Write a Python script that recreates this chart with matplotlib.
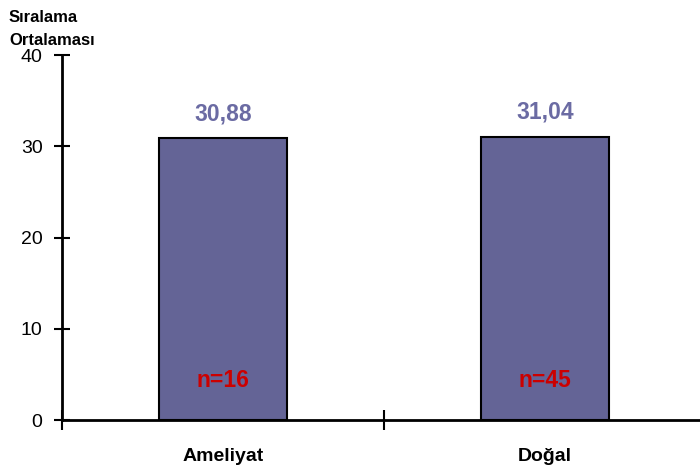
import matplotlib
matplotlib.use("Agg")
import matplotlib.pyplot as plt

# =========================
# データ
# =========================
categories = ["Ameliyat", "Doğal"]
values = [30.88, 31.04]
value_labels = ["30,88", "31,04"]
n_labels = ["n=16", "n=45"]
y_ticks = [0, 10, 20, 30, 40]

BAR_COLOR = "#646496"
VALUE_COLOR = "#6b6ba3"
N_COLOR = "#cc0000"

plt.rcParams["font.family"] = ["Liberation Sans", "DejaVu Sans"]

fig = plt.figure(figsize=(7.0, 4.69), dpi=100)
ax = fig.add_axes([62 / 700, 1 - 420 / 469, (706 - 62) / 700, (420 - 55) / 469])

x = list(range(len(categories)))
ax.bar(x, values, width=0.4, color=BAR_COLOR, edgecolor="black", linewidth=1.5, zorder=2)

for i in x:
    ax.text(i, values[i] + 1.4, value_labels[i], ha="center", va="bottom",
            color=VALUE_COLOR, fontsize=16.5, fontweight="bold")
    ax.text(i, 4.3, n_labels[i], ha="center", va="center",
            color=N_COLOR, fontsize=16.5, fontweight="bold")

ax.set_xlim(-0.5, 1.5)
ax.set_ylim(0, 40)
ax.set_yticks(y_ticks)
ax.set_yticklabels([str(t) for t in y_ticks], fontsize=14)

# カテゴリ境界の目盛り
ax.set_xticks([-0.5, 0.5])
ax.set_xticklabels([])
ax.set_xticks(x, minor=True)
ax.set_xticklabels(categories, minor=True, fontsize=14, fontweight="bold")
ax.tick_params(axis="x", which="minor", length=0, pad=20)
ax.tick_params(axis="x", which="major", direction="inout", length=14, width=1.5)
ax.tick_params(axis="y", direction="inout", length=12, width=1.5, pad=8)

for side in ["top", "right"]:
    ax.spines[side].set_visible(False)
for side in ["left", "bottom"]:
    ax.spines[side].set_linewidth(2)

fig.text(9 / 700, 1 - 22 / 469, "Sıralama", ha="left", va="baseline",
         fontsize=12, fontweight="bold")
fig.text(9 / 700, 1 - 45 / 469, "Ortalaması", ha="left", va="baseline",
         fontsize=12, fontweight="bold")

plt.savefig("out.png", dpi=100)
